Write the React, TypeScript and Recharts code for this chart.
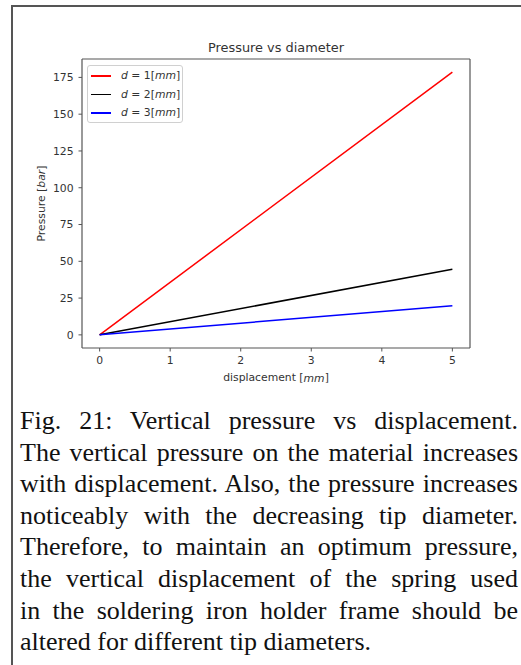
import React from 'react';
import { LineChart, Line, XAxis, YAxis, Legend, Label, ReferenceLine } from 'recharts';

const xValues = [0, 5];
const pressureD1 = [0, 178.6];
const pressureD2 = [0, 44.65];
const pressureD3 = [0, 19.85];
const diameters = [1, 2, 3];
const seriesKeys = ['d1', 'd2', 'd3'];
const seriesColors = ['#ff0000', '#000000', '#0000ff'];
const xTicks = [0, 1, 2, 3, 4, 5];
const yTicks = [0, 25, 50, 75, 100, 125, 150, 175];
const xDomain = [-0.25, 5.25];
const yDomain = [-8.93, 187.5];
const titleText = 'Pressure vs diameter';
const captionLines = [
  'Fig. 21: Vertical pressure vs displacement.',
  'The vertical pressure on the material increases',
  'with displacement. Also, the pressure increases',
  'noticeably with the decreasing tip diameter.',
  'Therefore, to maintain an optimum pressure,',
  'the vertical displacement of the spring used',
  'in the soldering iron holder frame should be',
  'altered for different tip diameters.',
];

const data = xValues.map((x, i) => ({
  x,
  d1: pressureD1[i],
  d2: pressureD2[i],
  d3: pressureD3[i],
}));

const FONT = '"DejaVu Sans", Verdana, sans-serif';
const TEXT = '#333';
const AXIS = '#555';
const TICK_FS = 10.8;

const LegendContent = (props: any) => {
  const payload = props.payload || [];
  return (
    <div
      style={{
        border: '1px solid #d0d0d0',
        borderRadius: 3,
        background: 'rgba(255,255,255,0.85)',
        width: 96,
        height: 58,
        boxSizing: 'border-box',
        paddingTop: 1,
        fontFamily: FONT,
        fontSize: TICK_FS,
        color: TEXT,
      }}
    >
      {payload.map((p: any, i: number) => {
        const idx = seriesKeys.indexOf(p.dataKey);
        return (
          <div key={i} style={{ display: 'flex', alignItems: 'center', height: 18.7 }}>
            <div style={{ marginLeft: 3, width: 19.5, height: 1.6, background: p.color }} />
            <div style={{ marginLeft: 10.5, whiteSpace: 'nowrap', lineHeight: '14px' }}>
              <i>d</i> = {diameters[idx]}[<i>mm</i>]
            </div>
          </div>
        );
      })}
    </div>
  );
};

const tickStyle = { fill: TEXT, fontFamily: FONT, fontSize: TICK_FS };

export default function App() {
  return (
    <div
      style={{
        position: 'absolute',
        left: 0,
        top: 0,
        width: 521,
        height: 665,
        background: '#fff',
        overflow: 'hidden',
      }}
    >
      <div style={{ position: 'absolute', left: 11, top: 5, width: 510, height: 1.5, background: AXIS }} />
      <div style={{ position: 'absolute', left: 11, top: 5, width: 1.5, height: 660, background: AXIS }} />

      <div
        style={{
          position: 'absolute',
          left: 82,
          width: 388,
          top: 39.5,
          lineHeight: '16px',
          textAlign: 'center',
          fontFamily: FONT,
          fontSize: 12.9,
          color: TEXT,
        }}
      >
        {titleText}
      </div>

      <div style={{ position: 'absolute', left: 0, top: 0 }}>
        <LineChart width={521} height={400} data={data} margin={{ top: 59, right: 51, bottom: 22, left: 0 }}>
          <XAxis
            dataKey="x"
            type="number"
            domain={xDomain}
            ticks={xTicks}
            height={30}
            tickSize={3.5}
            tickMargin={5}
            fontSize={TICK_FS}
            fontFamily={FONT}
            axisLine={{ stroke: AXIS, strokeWidth: 1.2 }}
            tickLine={{ stroke: AXIS }}
            tick={tickStyle}
          >
            <Label
              content={(p: any) => {
                const vb = p.viewBox || { x: 82, y: 348, width: 388, height: 30 };
                return (
                  <text
                    x={vb.x + vb.width / 2}
                    y={vb.y + 29.5}
                    textAnchor="middle"
                    dominantBaseline="central"
                    fontFamily={FONT}
                    fontSize={TICK_FS}
                    fill={TEXT}
                  >
                    displacement [<tspan fontStyle="italic">mm</tspan>]
                  </text>
                );
              }}
            />
          </XAxis>
          <YAxis
            type="number"
            domain={yDomain}
            ticks={yTicks}
            width={82}
            tickSize={3.5}
            tickMargin={5}
            fontSize={TICK_FS}
            fontFamily={FONT}
            axisLine={{ stroke: AXIS, strokeWidth: 1.2 }}
            tickLine={{ stroke: AXIS }}
            tick={tickStyle}
          >
            <Label
              content={(p: any) => {
                const vb = p.viewBox || { x: 0, y: 59, width: 82, height: 289 };
                const cx = vb.x + 41;
                const cy = vb.y + vb.height / 2;
                return (
                  <text
                    x={cx}
                    y={cy}
                    transform={`rotate(-90 ${cx} ${cy})`}
                    textAnchor="middle"
                    dominantBaseline="central"
                    fontFamily={FONT}
                    fontSize={TICK_FS}
                    fill={TEXT}
                  >
                    Pressure [<tspan fontStyle="italic">bar</tspan>]
                  </text>
                );
              }}
            />
          </YAxis>
          <ReferenceLine x={xDomain[1]} stroke={AXIS} strokeWidth={1.2} ifOverflow="visible" />
          <ReferenceLine y={yDomain[1]} stroke={AXIS} strokeWidth={1.2} ifOverflow="visible" />
          <Legend
            layout="vertical"
            align="center"
            verticalAlign="middle"
            content={LegendContent}
            wrapperStyle={{ top: 64.5, left: 87, width: 96, height: 58 }}
          />
          {seriesKeys.map((k, i) => (
            <Line
              key={k}
              dataKey={k}
              name={`d = ${diameters[i]}[mm]`}
              stroke={seriesColors[i]}
              strokeWidth={1.5}
              dot={false}
              activeDot={false}
              isAnimationActive={false}
            />
          ))}
        </LineChart>
      </div>

      <div
        style={{
          position: 'absolute',
          left: 20,
          top: 405,
          width: 498,
          fontFamily: '"Liberation Serif", "Times New Roman", serif',
          fontSize: 26,
          color: '#111',
        }}
      >
        {captionLines.map((line, i) => (
          <div
            key={i}
            style={{
              height: 31.6,
              lineHeight: '31.6px',
              whiteSpace: 'nowrap',
              textAlign: i === captionLines.length - 1 ? 'left' : 'justify',
              textAlignLast: i === captionLines.length - 1 ? 'left' : 'justify',
            }}
          >
            {line}
          </div>
        ))}
      </div>
    </div>
  );
}
